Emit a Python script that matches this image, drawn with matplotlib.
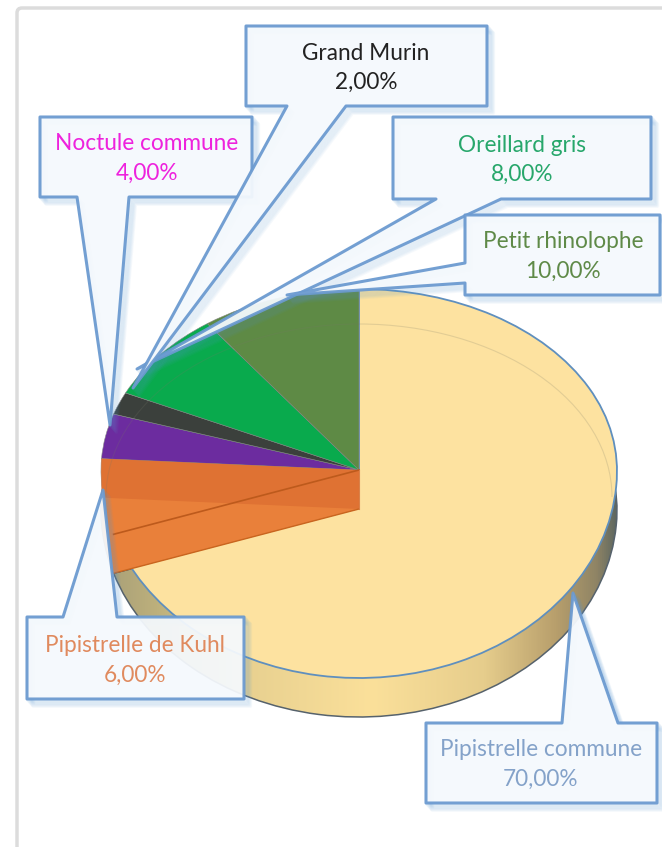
import numpy as np
import matplotlib
matplotlib.use('Agg')
import matplotlib.pyplot as plt
from matplotlib.patches import Polygon, Arc, FancyBboxPatch
from matplotlib.colors import LinearSegmentedColormap

especes = ['Pipistrelle commune', 'Pipistrelle de Kuhl', 'Noctule commune', 'Grand Murin', 'Oreillard gris', 'Petit rhinolophe']
valeurs = [70, 6, 4, 2, 8, 10]
couleurs = ['#fde2a0', '#e9803a', '#6c2c9f', '#3b403c', '#09aa4d', '#5e8a45']
couleurs_texte = ['#84a2c9', '#e08a5e', '#ee22dd', '#222222', '#27a76b', '#5f8a48']

W, H = 662, 847
CX, CY, RX = 359, 470, 258
RY_HAUT, RY_BAS, EP = 181, 208, 39

plt.rcParams['font.family'] = ['Lato', 'DejaVu Sans']
fig = plt.figure(figsize=(W / 100, H / 100), dpi=100, facecolor='white')


def haut_bas(y):
    y = np.asarray(y, dtype=float)
    return np.where(y > 0, y * RY_HAUT, y * RY_BAS)


def inverse(v):
    v = np.asarray(v, dtype=float)
    return np.where(v > 0, v / RY_HAUT, v / RY_BAS)


# un camembert dans ses propres axes, decale de dy pixels vers le bas
def camembert(dy, z, faces, bord, lw):
    ax = fig.add_axes([0, 0, 1, 1], zorder=z)
    wedges, _ = ax.pie(valeurs, colors=faces, startangle=90, counterclock=False,
                       wedgeprops={'edgecolor': bord, 'linewidth': lw})
    ax.set_aspect('auto')
    ax.set_yscale('function', functions=(haut_bas, inverse))
    ax.set_xlim(-CX / RX, (W - CX) / RX)
    ax.set_ylim(-(H - CY - dy) / RY_BAS, (CY + dy) / RY_HAUT)
    ax.axis('off')
    ax.patch.set_alpha(0)
    return ax, wedges


def pixels(z):
    ax = fig.add_axes([0, 0, 1, 1], zorder=z)
    ax.set_xlim(0, W)
    ax.set_ylim(H, 0)
    ax.axis('off')
    ax.patch.set_alpha(0)
    return ax


# cadre gris de la capture
fond = pixels(0)
fond.add_patch(FancyBboxPatch((17, 8), W + 40, H + 40, boxstyle='round,pad=0,rounding_size=5',
                              fc='white', ec='#dcdcdc', lw=2.5))

# tranche laterale avec degrade
deg = LinearSegmentedColormap.from_list('cote', [
    (0.0, '#a89f78'), (0.1, '#bdb07c'), (0.25, '#e6cf8f'), (0.52, '#fbe09a'),
    (0.74, '#e6cd8c'), (0.88, '#b89f6c'), (0.96, '#8f8465'), (1.0, '#5c6660')])
ax_img = pixels(1)
im = ax_img.imshow(np.linspace(0, 1, 256).reshape(1, -1), cmap=deg, aspect='auto',
                   extent=(105, 618, 760, 400))
ax_img.set_xlim(0, W)
ax_img.set_ylim(H, 0)

faces_bas = ['none'] + couleurs[1:]
ax_bas, w_bas = camembert(EP, 2, faces_bas, '#56626c', 1.1)
im.set_clip_path(w_bas[0])

# dessus
ax_haut, w_haut = camembert(0, 3, couleurs, '#5f8fbe', 1.3)
for w in w_haut[1:]:
    w.set_linewidth(0.4)
    w.set_edgecolor('#888888')

# fond de la tranche orange, vu par transparence
ax_k, w_k = camembert(EP, 4, couleurs, 'none', 0)
for i, w in enumerate(w_k):
    w.set_visible(i == 1)

cum = np.cumsum(valeurs) / np.sum(valeurs) * 2 * np.pi


def rayon(t):
    y = np.cos(t)
    return CX + RX * np.sin(t), CY - (RY_HAUT if y > 0 else RY_BAS) * y


ax_p = pixels(5)
x0, y0 = rayon(cum[0])
x1, y1 = rayon(cum[1])
ax_p.fill([CX, CX, x0, x0], [CY, CY + EP, y0 + EP, y0], color='#e9803a', lw=0)
ax_p.fill([CX, CX, x1, x1], [CY, CY + EP, y1 + EP, y1], color='#df7233', lw=0)
ax_p.plot([CX, x0], [CY, y0], color='#bd5a1c', lw=1.2)
ax_p.plot([CX, x0], [CY + EP, y0 + EP], color='#c9651f', lw=1)
ax_p.plot([CX, CX], [CY, CY + EP], color='#d9824a', lw=0.8)
ax_p.add_patch(Arc((CX, 497), 506, 346, theta1=180, theta2=360, ec='#777766', lw=0.8, alpha=0.2))

# bulles de legende
bulles = [
    ((426, 723, 657, 803), [(562, 723), (573, 593), (618, 723)], (541, 750)),
    ((27, 617, 244, 699), [(63, 617), (103, 490), (117, 617)], (135, 646)),
    ((40, 117, 252, 197), [(77, 197), (110, 425), (129, 197)], (147, 144)),
    ((246, 26, 487, 106), [(287, 106), (133, 388), (346, 106)], (366, 53)),
    ((393, 117, 651, 199), [(436, 199), (137, 369), (501, 199)], (522, 145)),
    ((465, 215, 660, 295), [(465, 263), (287, 295), (465, 283)], (563, 242)),
]
ordre = [4, 5, 2, 3, 1, 0]
ax_b = pixels(6)
for i in ordre:
    (g, h, d, b), queue, centre = bulles[i]
    if i == 5:
        pts = [(g, h), (d, h), (d, b), (g, b), queue[2], queue[1], queue[0]]
    elif i in (0, 1):
        pts = [(g, h), queue[0], queue[1], queue[2], (d, h), (d, b), (g, b)]
    else:
        pts = [(g, h), (d, h), (d, b), queue[2], queue[1], queue[0], (g, b)]
    pts = np.array(pts, dtype=float)
    for k in range(1, 9):
        ax_b.add_patch(Polygon(pts + [k * 0.8, k * 0.9], closed=True, fc='none', ec='#5b9bd5',
                               lw=2.5, alpha=0.055, joinstyle='round'))
    ax_b.add_patch(Polygon(pts, closed=True, fc='#f5f9fd', ec='#6b9ad0', lw=2.2, alpha=0.94,
                           joinstyle='round'))
    ax_b.text(centre[0], centre[1], especes[i], color=couleurs_texte[i], fontsize=16.3,
              ha='center', va='center')
    ax_b.text(centre[0], centre[1] + 29, f'{valeurs[i]},00%', color=couleurs_texte[i], fontsize=16.3,
              ha='center', va='center')

fig.savefig('out.png', dpi=100)
